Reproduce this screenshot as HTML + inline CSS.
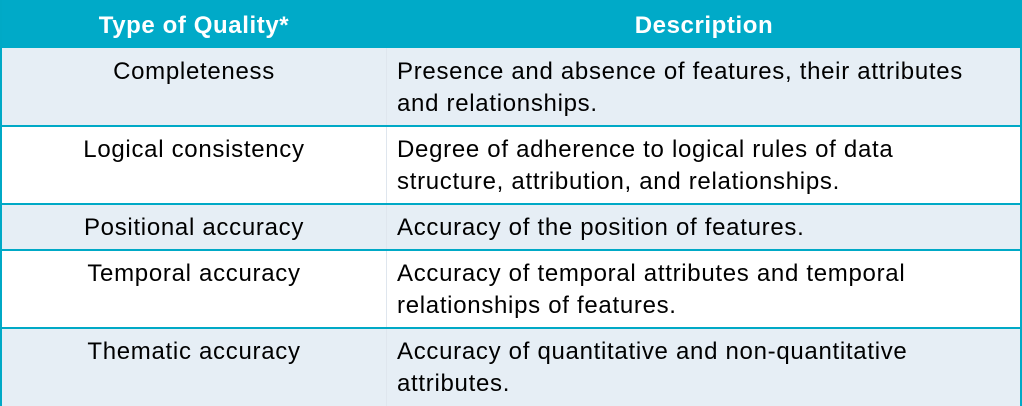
<!DOCTYPE html>
<html><head><style>
html,body{margin:0;padding:0;width:1022px;height:406px;overflow:hidden;background:#fff;font-family:"Liberation Sans",sans-serif;}
.r{position:absolute;left:0;width:1022px;box-sizing:border-box;border-left:2px solid #00A9C6;border-right:2px solid #00A9C6;}
.h{top:0;height:48px;background:#00AAC8;color:#fff;font-weight:bold;font-size:24px;letter-spacing:0.6px;}
.l{background:#E6EEF5;}
.w{background:#fff;}
.c1{position:absolute;left:0;width:384px;text-align:center;}
.c2{position:absolute;left:395px;width:625px;}
.v{position:absolute;left:384px;top:0;bottom:0;width:1px;background:#dfe6ee;}
.t{font-size:24px;letter-spacing:0.7px;color:#000;line-height:32px;}
.ln{position:absolute;left:0;width:1022px;height:2px;background:#00A9C6;}
</style></head><body>
<div class="r h"><div class="c1" style="top:12px">Type of Quality*</div><div class="c1" style="left:384px;width:636px;top:12px">Description</div></div>
<div class="r l t" style="top:48px;height:78px"><div class="v"></div><div class="c1" style="top:8px">Completeness</div><div class="c2" style="top:8px">Presence and absence of features, their attributes<br>and relationships.</div></div>
<div class="ln" style="top:125px"></div>
<div class="r w t" style="top:127px;height:76px"><div class="v"></div><div class="c1" style="top:7px">Logical consistency</div><div class="c2" style="top:7px">Degree of adherence to logical rules of data<br>structure, attribution, and relationships.</div></div>
<div class="ln" style="top:203px"></div>
<div class="r l t" style="top:205px;height:45px"><div class="v"></div><div class="c1" style="top:7px">Positional accuracy</div><div class="c2" style="top:7px">Accuracy of the position of features.</div></div>
<div class="ln" style="top:249px"></div>
<div class="r w t" style="top:251px;height:76px"><div class="v"></div><div class="c1" style="top:7px">Temporal accuracy</div><div class="c2" style="top:7px">Accuracy of temporal attributes and temporal<br>relationships of features.</div></div>
<div class="ln" style="top:327px"></div>
<div class="r l t" style="top:329px;height:77px"><div class="v"></div><div class="c1" style="top:7px">Thematic accuracy</div><div class="c2" style="top:7px">Accuracy of quantitative and non-quantitative<br>attributes.</div></div>
</body></html>
